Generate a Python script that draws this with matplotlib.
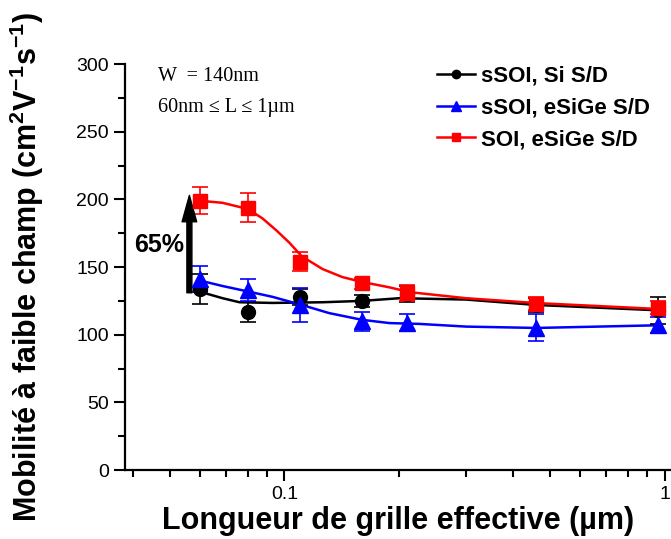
import numpy as np
import matplotlib
matplotlib.use("Agg")
import matplotlib.pyplot as plt
from matplotlib.ticker import FixedLocator, NullFormatter, LogLocator

plt.rcParams['font.family'] = ['Liberation Sans', 'DejaVu Sans']
plt.rcParams['mathtext.fontset'] = 'custom'
plt.rcParams['mathtext.rm'] = 'Liberation Sans'
plt.rcParams['mathtext.bf'] = 'Liberation Sans:bold'

# measured points (gate length in um, mobility, error)
L_pts = [0.06, 0.08, 0.11, 0.16, 0.21, 0.46, 0.96]
mu_si = [134, 117, 128, 125, 130, 122, 118]
err_si = [11, 7.5, 6, 4.5, 6, 5, 10]
mu_sige = [141, 133, 122, 110, 109, 105, 107]
err_sige = [9.5, 8, 12.5, 7, 6, 10, 6]
mu_soi = [199, 194, 154, 138, 131, 123, 120]
err_soi = [10, 11, 7, 4, 6, 5, 5]

# fitted curves
L_fit_si = [0.06, 0.0687, 0.0761, 0.093, 0.126, 0.16, 0.201, 0.30, 0.46, 0.97]
fit_si = [131.7, 127, 124, 123.5, 124, 125, 127, 126, 122, 118]
L_fit_sige = [0.06, 0.0687, 0.08, 0.093, 0.111, 0.131, 0.16, 0.189, 0.226, 0.301, 0.46, 0.97]
fit_sige = [140, 136, 132, 128, 122, 116, 111, 108.6, 108, 106, 105, 107]
L_fit_soi = [0.06, 0.0687, 0.0799, 0.0875, 0.0953, 0.103, 0.111, 0.126, 0.142, 0.16,
             0.189, 0.213, 0.30, 0.46, 0.97]
fit_soi = [199, 197.5, 193, 186, 177, 168, 158, 148.5, 142.6, 139, 135, 131.5, 127, 123.4, 119]

labels = ['sSOI, Si S/D', 'sSOI, eSiGe S/D', 'SOI, eSiGe S/D']

fig = plt.figure(figsize=(6.71, 5.39), dpi=100)
ax = fig.add_axes([0.186, 0.128, 0.814, 0.753])

series = [
    (L_fit_si, fit_si, mu_si, err_si, 'black', 'o', 10),
    (L_fit_sige, fit_sige, mu_sige, err_sige, 'blue', '^', 11),
    (L_fit_soi, fit_soi, mu_soi, err_soi, 'red', 's', 10),
]
handles = []
for (lx, fit, mu, err, c, m, ms), lab in zip(series, labels):
    ax.plot(lx, fit, color=c, lw=1.8, zorder=2)
    ax.errorbar(L_pts, mu, yerr=err, fmt=m, color=c, ms=ms, ecolor=c,
                elinewidth=1.2, capsize=6, capthick=1.2, zorder=3)
    h, = ax.plot([], [], color=c, marker=m, ms=ms * 0.6, lw=1.8, label=lab)
    handles.append(h)

ax.set_xscale('log')
ax.set_xlim(0.038, 1.04)
ax.set_ylim(0, 300)

ax.xaxis.set_major_locator(FixedLocator([0.1, 1]))
ax.xaxis.set_major_formatter(plt.FuncFormatter(lambda v, p: f"{v:g}"))
ax.xaxis.set_minor_locator(LogLocator(base=10, subs=np.arange(2, 10)))
ax.xaxis.set_minor_formatter(NullFormatter())
ax.set_yticks(range(0, 301, 50))
ax.set_yticks(range(25, 300, 50), minor=True)

for s in ['top', 'right']:
    ax.spines[s].set_visible(False)
for s in ['left', 'bottom']:
    ax.spines[s].set_linewidth(1.6)
ax.tick_params(which='major', direction='out', length=8, width=1.5, labelsize=14)
ax.tick_params(which='minor', direction='out', length=5, width=1.5)

ax.set_xlabel('Longueur de grille effective (µm)', fontsize=22, fontweight='bold', labelpad=2)
ax.set_ylabel('Mobilité à faible champ (cm$^\\mathbf{2}$V$^\\mathbf{-1}$s$^\\mathbf{-1}$)',
              fontsize=22, fontweight='bold', labelpad=22)

# 65% arrow
ax.annotate('', xy=(0.0562, 203), xytext=(0.0562, 131),
            arrowprops=dict(width=3.6, headwidth=10.5, headlength=19, shrink=0,
                            facecolor='black', edgecolor='black'))
ax.text(0.0545, 166, '65%', fontsize=18, fontweight='bold', ha='right', va='center')

ax.text(0.0465, 291, 'W  = 140nm', family=['Liberation Serif'], fontsize=14.5, va='center')
ax.text(0.0465, 268, '60nm ≤ L ≤ 1µm', family=['Liberation Serif'], fontsize=14.5, va='center')

leg = ax.legend(handles=handles, loc='upper left', bbox_to_anchor=(0.535, 1.045),
                frameon=False, handlelength=1.7, handletextpad=0.3, labelspacing=0.48,
                prop={'weight': 'bold', 'size': 16})

fig.savefig('out.png', dpi=100)
